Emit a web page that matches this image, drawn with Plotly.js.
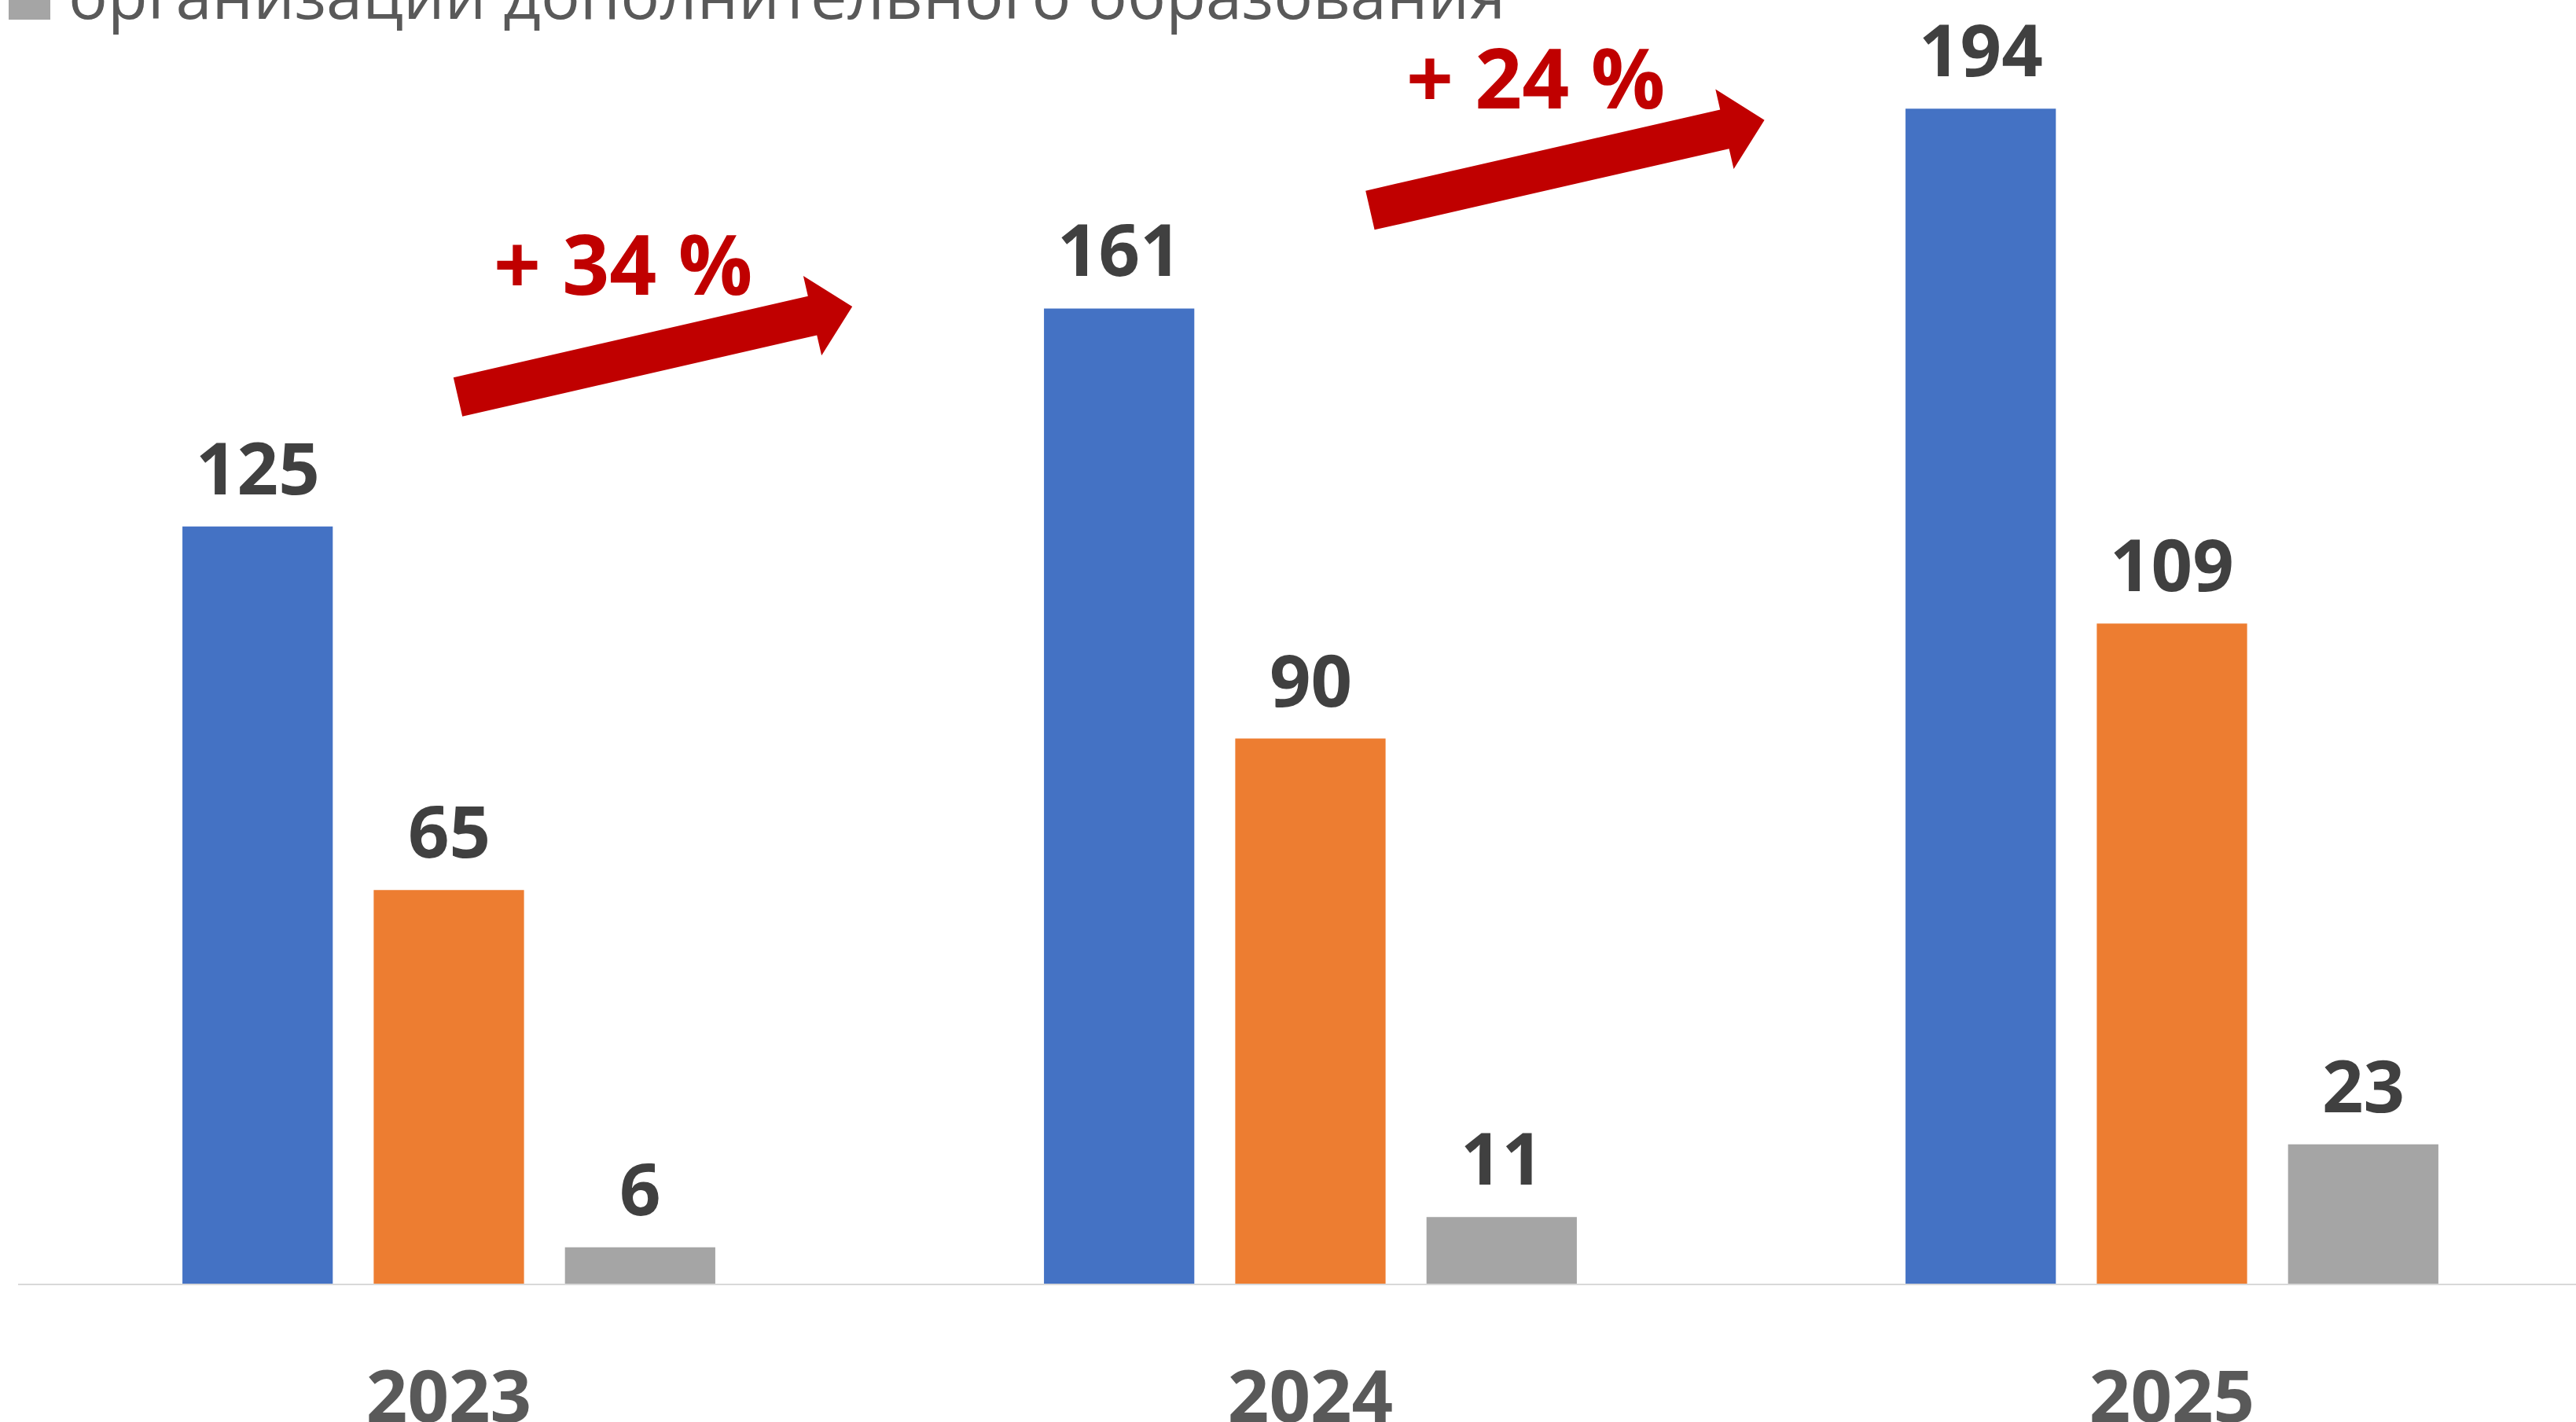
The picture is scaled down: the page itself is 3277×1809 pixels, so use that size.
<!DOCTYPE html>
<html>
<head>
<meta charset="utf-8">
<script src="https://cdn.plot.ly/plotly-3.0.1.min.js"></script>
<style>
html,body{margin:0;padding:0;background:#ffffff;}
#chart{width:3277px;height:1809px;}
</style>
</head>
<body>
<div id="chart"></div>
<script>
// ---- data ----
const years = ['2023', '2024', '2025'];
const seriesNames = ['Ряд 1', 'Ряд 2', 'организации дополнительного образования'];
const seriesTotal = [125, 161, 194];
const seriesSecond = [65, 90, 109];
const seriesAddEdu = [6, 11, 23];
const growthLabels = ['+ 34 %', '+ 24 %'];
const legendLabel = 'организации дополнительного образования';

// ---- style / geometry ----
const colors = ['#4472C4', '#ED7D31', '#A5A5A5'];
const W = 3277, H = 1809;
const ML = 23, MR = 0, MT = 0, MB = 176;
const PW = W - ML - MR, PH = H - MT - MB;
const CAT_PX = 1096;
const BARGAP = 0.334, GROUPGAP = 0.214;
const YMAX = PH / 7.705;
const FONT = 'Open Sans, Noto Sans, DejaVu Sans, sans-serif';

const px2x = p => (p - ML) / PW;
const py2y = p => (H - MB - p) / PH;

const series = [seriesTotal, seriesSecond, seriesAddEdu];

const traces = series.map((vals, i) => ({
  type: 'bar',
  x: years,
  y: vals,
  name: seriesNames[i],
  marker: {color: colors[i], line: {width: 0}},
  showlegend: false,
  hoverinfo: 'skip'
}));

const annotations = [];
const slot = (1 - BARGAP) / series.length;
series.forEach((vals, i) => {
  vals.forEach((v, j) => {
    annotations.push({
      x: j + (i - (series.length - 1) / 2) * slot,
      y: v,
      xref: 'x', yref: 'y',
      text: String(v),
      showarrow: false,
      xanchor: 'center', yanchor: 'bottom',
      yshift: 12,
      font: {family: FONT, size: 92, color: '#404040', weight: 700}
    });
  });
});

// growth arrows (decorations, positioned in figure pixels)
const arrowsGeom = [
  {tail: [582.5, 505], tip: [1084.2, 390], text: [792, 408]},
  {tail: [1742.9, 267.5], tip: [2244.6, 152.7], text: [1953, 171]}
];
function arrowPath(t, h, shaftW, headW, headL) {
  const dx = h[0] - t[0], dy = h[1] - t[1];
  const len = Math.hypot(dx, dy), ux = dx / len, uy = dy / len;
  const nx = -uy, ny = ux;
  const bx = h[0] - ux * headL, by = h[1] - uy * headL;
  const pts = [
    [t[0] + nx * shaftW / 2, t[1] + ny * shaftW / 2],
    [bx + nx * shaftW / 2, by + ny * shaftW / 2],
    [bx + nx * headW / 2, by + ny * headW / 2],
    [h[0], h[1]],
    [bx - nx * headW / 2, by - ny * headW / 2],
    [bx - nx * shaftW / 2, by - ny * shaftW / 2],
    [t[0] - nx * shaftW / 2, t[1] - ny * shaftW / 2]
  ];
  return 'M' + pts.map(p => px2x(p[0]).toFixed(6) + ',' + py2y(p[1]).toFixed(6)).join('L') + 'Z';
}
const shapes = [];
arrowsGeom.forEach((a, k) => {
  shapes.push({
    type: 'path', xref: 'paper', yref: 'paper',
    path: arrowPath(a.tail, a.tip, 51, 104, 52),
    fillcolor: '#C00000', line: {width: 0}, layer: 'above'
  });
  annotations.push({
    xref: 'paper', yref: 'paper',
    x: px2x(a.text[0]), y: py2y(a.text[1]),
    xanchor: 'center', yanchor: 'bottom',
    text: growthLabels[k], showarrow: false,
    font: {family: FONT, size: 105, color: '#C00000', weight: 700}
  });
});

// legend (partially cut off at the top, as in the reference)
shapes.push({
  type: 'rect', xref: 'paper', yref: 'paper',
  x0: px2x(11), x1: px2x(64), y0: py2y(25), y1: py2y(-28),
  fillcolor: colors[2], line: {width: 0}, layer: 'above'
});
annotations.push({
  xref: 'paper', yref: 'paper',
  x: px2x(85), y: py2y(50),
  xanchor: 'left', yanchor: 'bottom',
  text: legendLabel, showarrow: false,
  font: {family: FONT, size: 83, color: '#595959'}
});

const layout = {
  width: W, height: H,
  margin: {l: ML, r: MR, t: MT, b: MB, pad: 0, autoexpand: false},
  paper_bgcolor: '#ffffff', plot_bgcolor: '#ffffff',
  barmode: 'group', bargap: BARGAP, bargroupgap: GROUPGAP,
  showlegend: false,
  xaxis: {
    type: 'category',
    range: [-0.5, -0.5 + PW / CAT_PX],
    showline: true, linecolor: '#D9D9D9', linewidth: 2,
    showgrid: false, zeroline: false, ticks: '',
    tickfont: {family: FONT, size: 92, color: '#595959', weight: 700},
    ticklabelstandoff: 64,
    fixedrange: true
  },
  yaxis: {range: [0, YMAX], visible: false, fixedrange: true},
  annotations: annotations,
  shapes: shapes
};

Plotly.newPlot('chart', traces, layout, {displayModeBar: false, staticPlot: true});
</script>
</body>
</html>
